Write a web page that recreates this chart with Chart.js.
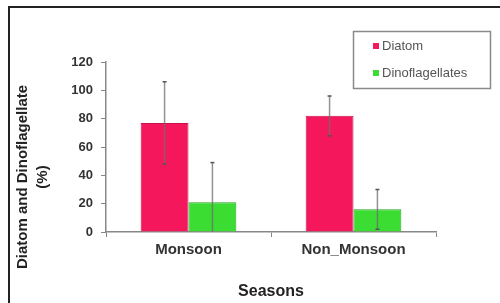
<!DOCTYPE html>
<html>
<head>
<meta charset="utf-8">
<script src="https://cdn.jsdelivr.net/npm/chart.js@4.4.1/dist/chart.umd.min.js"></script>
<style>
  html, body { margin: 0; padding: 0; background: #fff; }
  #wrap { position: relative; width: 500px; height: 303px; }
</style>
</head>
<body>
<div id="wrap"><canvas id="c" width="500" height="303"></canvas></div>
<script>
const categories = ["Monsoon", "Non_Monsoon"];
const seriesNames = ["Diatom", "Dinoflagellates"];
const diatomValues = [77, 82];
const diatomErrors = [29, 14];
const dinoValues = [21, 16];
const dinoErrors = [28, 14];
const yTicks = [0, 20, 40, 60, 80, 100, 120];
const yTitleLines = ["Diatom and Dinoflagellate", "(%)"];
const xTitle = "Seasons";
const errorsBySeries = [diatomErrors, dinoErrors];

const FONT = "'Liberation Sans', Arial, sans-serif";

const framePlugin = {
  id: 'frame',
  beforeDraw(chart) {
    const ctx = chart.ctx;
    ctx.save();
    ctx.fillStyle = '#fff';
    ctx.fillRect(0, 0, chart.width, chart.height);
    ctx.fillStyle = '#222';
    ctx.fillRect(8, 6, chart.width - 8, 2);
    ctx.fillRect(8, 6, 2, chart.height - 6);
    ctx.restore();
  }
};

const errorBarPlugin = {
  id: 'errorBars',
  afterDatasetsDraw(chart) {
    const ctx = chart.ctx;
    const y = chart.scales.y;
    ctx.save();
    chart.data.datasets.forEach((ds, di) => {
      const meta = chart.getDatasetMeta(di);
      const errs = errorsBySeries[di];
      meta.data.forEach((el, i) => {
        const v = ds.data[i];
        const e = errs[i];
        const top = y.getPixelForValue(v + e);
        const bot = y.getPixelForValue(Math.max(v - e, 0));
        ctx.strokeStyle = 'rgba(110,110,110,0.75)';
        ctx.lineWidth = 1.5;
        ctx.beginPath();
        ctx.moveTo(el.x, top);
        ctx.lineTo(el.x, bot);
        ctx.stroke();
        ctx.strokeStyle = '#555';
        ctx.lineWidth = 1.5;
        ctx.beginPath();
        ctx.moveTo(el.x - 2, top);
        ctx.lineTo(el.x + 2, top);
        if (v - e > 0) {
          ctx.moveTo(el.x - 2, bot);
          ctx.lineTo(el.x + 2, bot);
        }
        ctx.stroke();
      });
    });
    ctx.restore();
  }
};

const yTitlePlugin = {
  id: 'yTitle',
  afterDraw(chart) {
    const ctx = chart.ctx;
    ctx.save();
    ctx.fillStyle = '#222';
    ctx.font = "bold 15px " + FONT;
    ctx.textAlign = 'center';
    ctx.textBaseline = 'middle';
    const xs = [23, 43];
    yTitleLines.forEach((line, i) => {
      ctx.save();
      ctx.translate(xs[i], 177);
      ctx.rotate(-Math.PI / 2);
      ctx.fillText(line, 0, 0);
      ctx.restore();
    });
    ctx.restore();
  }
};

const legendPlugin = {
  id: 'boxLegend',
  afterDraw(chart) {
    const ctx = chart.ctx;
    ctx.save();
    ctx.strokeStyle = '#8a8a8a';
    ctx.lineWidth = 1.5;
    ctx.strokeRect(353.5, 31.5, 137, 57);
    ctx.font = "13px " + FONT;
    ctx.textBaseline = 'middle';
    ctx.textAlign = 'left';
    const ys = [46, 73];
    chart.data.datasets.forEach((ds, i) => {
      ctx.fillStyle = ds.backgroundColor;
      ctx.fillRect(373, ys[i] - 3, 6, 6);
      ctx.fillStyle = '#555';
      ctx.fillText(ds.label, 382, ys[i]);
    });
    ctx.restore();
  }
};

new Chart(document.getElementById('c'), {
  type: 'bar',
  data: {
    labels: categories,
    datasets: [
      { label: seriesNames[0], data: diatomValues, backgroundColor: '#F5175C', borderColor: '#C8104A', borderWidth: 1 },
      { label: seriesNames[1], data: dinoValues, backgroundColor: '#3BDD33', borderColor: '#22A51E', borderWidth: 1 }
    ]
  },
  options: {
    responsive: false,
    animation: false,
    devicePixelRatio: 1,
    layout: { padding: { left: 60, right: 64, top: 62, bottom: 0 } },
    datasets: { bar: { categoryPercentage: 0.58, barPercentage: 1.0 } },
    plugins: { legend: { display: false }, tooltip: { enabled: false } },
    scales: {
      x: {
        afterFit(s) { s.height = 71; },
        grid: { drawOnChartArea: false, drawTicks: true, tickLength: 5, color: '#888', offset: true },
        border: { color: '#888', width: 1.5 },
        ticks: { color: '#333', font: { family: FONT, size: 15, weight: 'bold' }, padding: 4 },
        title: { display: true, text: xTitle, color: '#222', font: { family: FONT, size: 16, weight: 'bold' }, padding: { top: 0, bottom: 2 } }
      },
      y: {
        min: 0, max: 120,
        afterFit(s) { s.width = 46; },
        afterBuildTicks(s) { s.ticks = yTicks.map(v => ({ value: v })); },
        grid: { drawOnChartArea: false, drawTicks: true, tickLength: 5, color: '#888' },
        border: { color: '#888', width: 1.5 },
        ticks: { color: '#333', font: { family: FONT, size: 13, weight: 'bold' }, padding: 8 }
      }
    }
  },
  plugins: [framePlugin, errorBarPlugin, yTitlePlugin, legendPlugin]
});
</script>
</body>
</html>
